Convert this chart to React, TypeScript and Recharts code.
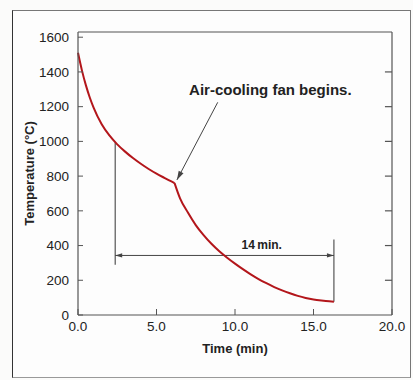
import React from 'react';
import { LineChart, Line, XAxis, YAxis, ReferenceLine, ReferenceDot } from 'recharts';

// cooling curve: natural cooling, then the fan kicks in at ~6.15 min
const preTime = [0, 0.25, 0.5, 0.75, 1, 1.5, 2, 2.5, 3, 3.5, 4, 4.5, 5, 5.5, 6.15];
const preTemp = [1510, 1409, 1324, 1253, 1193, 1100, 1034, 983, 941, 904, 871, 841, 814, 790, 760];
const postTime = [6.15, 6.5, 7, 7.5, 8, 8.5, 9, 9.5, 10, 10.5, 11, 11.5, 12, 12.5, 13, 13.5, 14, 14.5, 15, 15.5, 16, 16.3];
const postTemp = [760, 672, 590, 518, 460, 410, 367, 330, 296, 264, 234, 207, 183, 161, 142, 125, 110, 98, 89, 83, 78.5, 77];

const xTicks = [0, 5, 10, 15, 20];
const yTicks = [0, 200, 400, 600, 800, 1000, 1200, 1400, 1600];
const rightTicks = [200, 400, 600, 800, 1000, 1200, 1400];
const xMax = 20;
const yMax = 1630;

// annotations
const fanArrowFrom = { x: 8.9, y: 1225 };
const fanArrowTo = { x: 6.3, y: 778 };
const spanStart = 2.37;
const spanEnd = 16.3;
const spanY = 343;
const spanLabel = '14\u2009min.';
const fanLabel = 'Air-cooling fan begins.';

const preData = preTime.map((t, i) => ({ t, T: preTemp[i] }));
const postData = postTime.map((t, i) => ({ t, T: postTemp[i] }));

const FONT = '"Liberation Sans", Arial, Helvetica, sans-serif';
const INK = '#222';
const FRAME = '#555';
const CURVE = '#b3161b';

const arrowShape = (headStart: boolean, headEnd: boolean, color: string, size = 7) => (p: any) => {
  const { x1, y1, x2, y2 } = p;
  const a = Math.atan2(y2 - y1, x2 - x1);
  const head = (x: number, y: number, ang: number) => {
    const bx = x - size * Math.cos(ang);
    const by = y - size * Math.sin(ang);
    const w = size * 0.3;
    const pts = `${x},${y} ${bx + w * Math.sin(ang)},${by - w * Math.cos(ang)} ${bx - w * Math.sin(ang)},${by + w * Math.cos(ang)}`;
    return <polygon points={pts} fill={color} />;
  };
  return (
    <g>
      <line x1={x1} y1={y1} x2={x2} y2={y2} stroke={color} strokeWidth={1} />
      {headStart && head(x1, y1, a + Math.PI)}
      {headEnd && head(x2, y2, a)}
    </g>
  );
};

const tickStyle = { fontSize: 13.5, fill: INK, fontFamily: FONT };

export default function App() {
  return (
    <div style={{ position: 'absolute', left: 0, top: 0, width: 413, height: 380, background: '#fbfbfa', overflow: 'hidden' }}>
      <div
        style={{
          position: 'absolute',
          left: 12,
          top: 10,
          width: 397,
          height: 366,
          borderLeft: '1.5px solid #333',
          borderTop: '1px solid #777',
          borderRight: '1px solid #777',
          borderBottom: '1px solid #999',
          background: '#fdfdfd',
        }}
      />
      <div style={{ position: 'absolute', left: 0, top: 0 }}>
        <LineChart width={413} height={380} margin={{ top: 32, right: 21, bottom: 25, left: 28 }}>
          <XAxis
            dataKey="t"
            type="number"
            domain={[0, xMax]}
            ticks={xTicks}
            tickFormatter={(v: number) => v.toFixed(1)}
            tick={tickStyle}
            tickSize={-6}
            tickMargin={12}
            height={40}
            stroke={FRAME}
            axisLine={{ stroke: FRAME, strokeWidth: 1.2 }}
            label={{ value: 'Time (min)', position: 'insideBottom', offset: 2, fontSize: 13, fontWeight: 'bold', fill: INK, fontFamily: FONT }}
          />
          <YAxis
            type="number"
            domain={[0, yMax]}
            ticks={yTicks}
            tick={tickStyle}
            tickSize={-5}
            tickMargin={14}
            width={50}
            stroke={FRAME}
            axisLine={{ stroke: FRAME, strokeWidth: 1.2 }}
            label={{ value: 'Temperature (°C)', angle: -90, position: 'insideLeft', offset: 1, textAnchor: 'middle', fontSize: 13, fontWeight: 'bold', fill: INK, fontFamily: FONT }}
          />
          {/* plot frame: top and right edges plus inward ticks on the right */}
          <ReferenceLine y={yMax} stroke={FRAME} strokeWidth={1.2} />
          <ReferenceLine x={xMax} stroke={FRAME} strokeWidth={1.2} />
          {rightTicks.map((v) => (
            <ReferenceLine key={`rt-${v}`} segment={[{ x: xMax - 0.45, y: v }, { x: xMax, y: v }]} stroke={FRAME} strokeWidth={1.2} />
          ))}
          <ReferenceLine segment={[{ x: spanStart, y: 995 }, { x: spanStart, y: 290 }]} stroke="#555" strokeWidth={1.2} />
          <ReferenceLine segment={[{ x: spanEnd, y: 435 }, { x: spanEnd, y: 77 }]} stroke="#555" strokeWidth={1.2} />
          <ReferenceLine
            segment={[{ x: spanStart, y: spanY }, { x: spanEnd, y: spanY }]}
            shape={arrowShape(true, true, '#444', 7)}
          />
          <ReferenceLine segment={[fanArrowFrom, fanArrowTo]} shape={arrowShape(false, true, '#444', 9)} />
          <ReferenceDot
            x={12.25}
            y={1300}
            r={0}
            stroke="none"
            label={{ value: fanLabel, position: 'center', fontSize: 15, fontWeight: 'bold', fill: INK, fontFamily: FONT }}
          />
          <ReferenceDot
            x={11.7}
            y={405}
            r={0}
            stroke="none"
            label={{ value: spanLabel, position: 'center', fontSize: 12, fontWeight: 'bold', fill: INK, fontFamily: FONT }}
          />
          <Line data={preData} type="monotone" dataKey="T" stroke={CURVE} strokeWidth={2} dot={false} isAnimationActive={false} />
          <Line data={postData} type="monotone" dataKey="T" stroke={CURVE} strokeWidth={2} dot={false} isAnimationActive={false} />
        </LineChart>
      </div>
    </div>
  );
}
